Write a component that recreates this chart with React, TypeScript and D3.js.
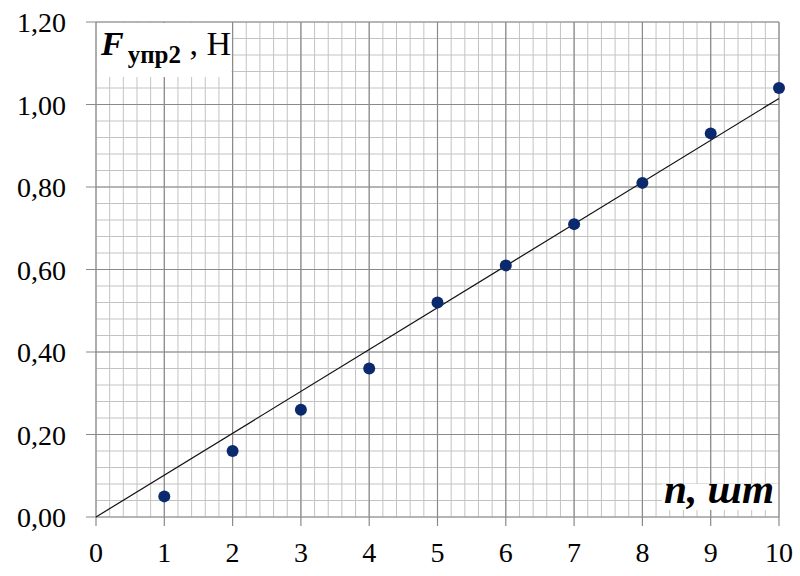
import React, { useEffect, useRef } from 'react';
import * as d3 from 'd3';

// measured values
const counts = [1, 2, 3, 4, 5, 6, 7, 8, 9, 10];
const forces = [0.05, 0.16, 0.26, 0.36, 0.52, 0.61, 0.71, 0.81, 0.93, 1.04];
const xTicks = [0, 1, 2, 3, 4, 5, 6, 7, 8, 9, 10];
const yTicks = [0, 0.2, 0.4, 0.6, 0.8, 1.0, 1.2];

const W = 800;
const H = 576;
const margin = { left: 96, right: 21, top: 22, bottom: 59 };

const App = () => {
  const ref = useRef<SVGSVGElement>(null);

  useEffect(() => {
    const svg = d3.select(ref.current);
    svg.selectAll('*').remove();

    const x = d3.scaleLinear().domain([0, 10]).range([margin.left, W - margin.right]);
    const y = d3.scaleLinear().domain([0, 1.2]).range([H - margin.bottom, margin.top]);

    const g = svg.append('g');

    // minor grid
    const xMinor = d3.range(0, 10.001, 0.2);
    const yMinor = d3.range(0, 1.2001, 0.04);
    g.selectAll('.vmin').data(xMinor).join('line')
      .attr('x1', d => x(d)).attr('x2', d => x(d))
      .attr('y1', y(0)).attr('y2', y(1.2))
      .attr('stroke', '#c3c3c3').attr('stroke-width', 1);
    g.selectAll('.hmin').data(yMinor).join('line')
      .attr('x1', x(0)).attr('x2', x(10))
      .attr('y1', d => y(d)).attr('y2', d => y(d))
      .attr('stroke', '#c3c3c3').attr('stroke-width', 1);

    // major grid with tick stubs
    g.selectAll('.vmaj').data(xTicks).join('line')
      .attr('x1', d => x(d)).attr('x2', d => x(d))
      .attr('y1', y(0) + 9).attr('y2', y(1.2))
      .attr('stroke', '#8a8a8a').attr('stroke-width', 1.2);
    g.selectAll('.hmaj').data(yTicks).join('line')
      .attr('x1', x(0) - 10).attr('x2', x(10))
      .attr('y1', d => y(d)).attr('y2', d => y(d))
      .attr('stroke', '#8a8a8a').attr('stroke-width', 1.2);

    // label boxes hide the grid
    g.append('rect').attr('x', x(0) + 1).attr('y', y(1.2) + 1)
      .attr('width', x(2) - x(0) - 2).attr('height', 54).attr('fill', '#fff');
    g.append('rect').attr('x', 662).attr('y', 484)
      .attr('width', x(10) - 662 - 1).attr('height', 26).attr('fill', '#fff');

    // trend line through origin (least squares)
    const slope = d3.sum(counts, (c, i) => c * forces[i]) / d3.sum(counts, c => c * c);
    g.append('line')
      .attr('x1', x(0)).attr('y1', y(0))
      .attr('x2', x(10)).attr('y2', y(slope * 10))
      .attr('stroke', '#111').attr('stroke-width', 1.2);

    // points
    g.selectAll('circle').data(counts).join('circle')
      .attr('cx', d => x(d))
      .attr('cy', (d, i) => y(forces[i]))
      .attr('r', 6)
      .attr('fill', '#0b2a6e');

    const font = '"Liberation Serif", "Times New Roman", serif';

    // tick labels
    g.selectAll('.xl').data(xTicks).join('text')
      .attr('x', d => x(d)).attr('y', 562)
      .attr('text-anchor', 'middle')
      .attr('font-family', font).attr('font-size', 28)
      .attr('fill', '#000')
      .text(d => d);
    g.selectAll('.yl').data(yTicks).join('text')
      .attr('x', 66).attr('y', d => y(d) + 10)
      .attr('text-anchor', 'end')
      .attr('font-family', font).attr('font-size', 28)
      .attr('fill', '#000')
      .text(d => d3.format('.2f')(d).replace('.', ','));

    // axis titles
    const yTitle = g.append('text').attr('x', 101).attr('y', 55)
      .attr('font-family', font).attr('fill', '#000');
    yTitle.append('tspan').attr('font-size', 34).attr('font-weight', 'bold')
      .attr('font-style', 'italic').text('F');
    yTitle.append('tspan').attr('font-size', 25).attr('font-weight', 'bold')
      .attr('dx', 4).attr('dy', 8).text('упр2');
    yTitle.append('tspan').attr('font-size', 34).attr('dy', -8).text(' , Н');

    g.append('text').attr('x', 664).attr('y', 503)
      .attr('font-family', font).attr('font-size', 40)
      .attr('font-weight', 'bold').attr('font-style', 'italic')
      .attr('fill', '#000')
      .attr('textLength', 110).attr('lengthAdjust', 'spacingAndGlyphs')
      .text('n, шт');
  }, []);

  return <svg ref={ref} width={W} height={H} style={{ position: 'absolute', left: 0, top: 0, background: '#fff' }} />;
};

export default App;
